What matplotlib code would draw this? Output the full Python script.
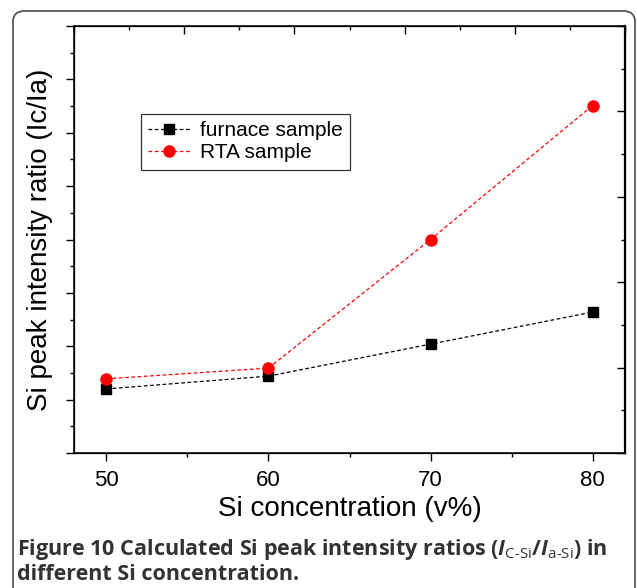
import matplotlib
matplotlib.use("Agg")
import matplotlib.pyplot as plt
from matplotlib.patches import FancyBboxPatch
from matplotlib.ticker import MultipleLocator, NullFormatter

# values (y axis has no numbers, arbitrary units)
si_conc = [50, 60, 70, 80]
furnace = [1.20, 1.44, 2.04, 2.64]
rta = [1.39, 1.59, 4.00, 6.51]
x_ticks = [50, 60, 70, 80]

plt.rcParams['font.family'] = ['Liberation Sans', 'DejaVu Sans']
plt.rcParams['mathtext.fontset'] = 'custom'
plt.rcParams['mathtext.rm'] = 'Open Sans'
plt.rcParams['mathtext.it'] = 'Open Sans:italic:bold'
plt.rcParams['mathtext.bf'] = 'Open Sans:bold'

fig = plt.figure(figsize=(6.37, 5.88), dpi=100)

# rounded frame around the figure panel
frame = FancyBboxPatch((13 / 637, -0.05), (635 - 13) / 637, 1.05 - 11 / 588,
                       boxstyle="round,pad=0,rounding_size=0.018",
                       transform=fig.transFigure, fill=False,
                       edgecolor='#4a4a4a', linewidth=1.2)
fig.patches.append(frame)

ax = fig.add_axes([74 / 637, 1 - 453 / 588, (625 - 74) / 637, (453 - 26) / 588])

ax.plot(si_conc, furnace, linestyle='--', color='black', linewidth=0.9,
        dashes=(3, 2), marker='s', markersize=6.5, label='furnace sample')
ax.plot(si_conc, rta, linestyle='--', color='red', linewidth=0.9,
        dashes=(3, 2), marker='o', markersize=8, label='RTA sample')

ax.set_xlim(48, 82)
ax.set_ylim(0, 8)
ax.set_xticks(x_ticks)
ax.xaxis.set_minor_locator(MultipleLocator(5))
ax.yaxis.set_major_locator(MultipleLocator(1))
ax.yaxis.set_minor_locator(MultipleLocator(0.5))
ax.yaxis.set_major_formatter(NullFormatter())
ax.tick_params(which='both', direction='out', width=1, top=False, right=False)
ax.tick_params(which='major', length=6, labelsize=16, pad=6)
ax.tick_params(which='minor', length=3)
for s in ax.spines.values():
    s.set_linewidth(1.1)

ax.set_xlabel('Si concentration (v%)', fontsize=20, labelpad=4)
ax.set_ylabel('Si peak intensity ratio (Ic/Ia)', fontsize=20, labelpad=3)

# top and right axes carry their own tick spacing
axt = ax.twiny()
axt.set_xlim(0, 5)
axt.xaxis.set_major_locator(MultipleLocator(1))
axt.xaxis.set_minor_locator(MultipleLocator(0.5))
axt.xaxis.set_major_formatter(NullFormatter())
axt.tick_params(which='both', direction='in', width=1)
axt.tick_params(which='major', length=6)
axt.tick_params(which='minor', length=3)

axr = ax.twinx()
axr.set_ylim(0, 10)
axr.yaxis.set_major_locator(MultipleLocator(2))
axr.yaxis.set_minor_locator(MultipleLocator(1))
axr.yaxis.set_major_formatter(NullFormatter())
axr.tick_params(which='both', direction='in', width=1)
axr.tick_params(which='major', length=6)
axr.tick_params(which='minor', length=3)
axr.spines['right'].set_linewidth(1.6)

leg = ax.legend(loc='upper left', bbox_to_anchor=(0.1216, 0.794), fontsize=15,
                frameon=True, fancybox=False, edgecolor='black',
                handlelength=2.0, handletextpad=0.5, borderpad=0.35,
                labelspacing=0.15, borderaxespad=0)
leg.get_frame().set_linewidth(0.9)

cap_col = '#333333'
fig.text(17 / 637, 1 - 549 / 588,
         r"Figure 10 Calculated Si peak intensity ratios "
         r"($\mathit{I}_{\mathrm{C\text{-}Si}}$/$\mathit{I}_{\mathrm{a\text{-}Si}}$) in",
         family='Open Sans', weight='bold', fontsize=15.5, color=cap_col,
         va='center', ha='left')
fig.text(17 / 637, 1 - 574 / 588, "different Si concentration.",
         family='Open Sans', weight='bold', fontsize=15.5, color=cap_col,
         va='center', ha='left')

fig.savefig('out.png', dpi=100)
